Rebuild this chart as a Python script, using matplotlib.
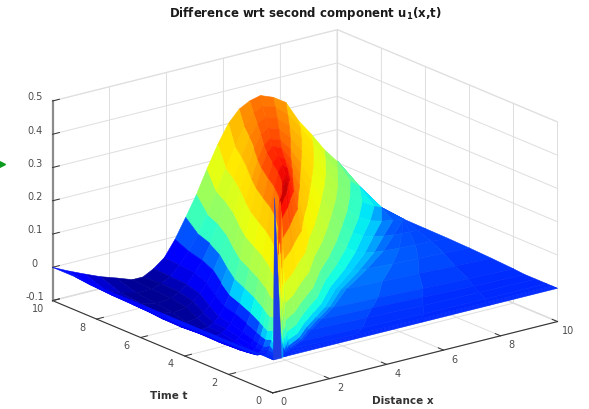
import numpy as np
import matplotlib
matplotlib.use("Agg")
import matplotlib.pyplot as plt
from matplotlib.colors import FuncNorm
from matplotlib.lines import Line2D
from mpl_toolkits.mplot3d.art3d import Poly3DCollection

t_vals = [0, .0625, .125, .1875, .25, .5, 1, 1.5, 2, 3, 4, 5, 6, 7, 8, 9, 10]

# where the crest runs at each time, and how wide it is on either side
ridge_x = [.2, .26, .32, .38, .45, .8, 1.2, 1.6, 2, 2.65, 3.25, 3.85, 4.54, 5.23, 5.92, 6.61, 7.3]
left_w = [.05, .06, .07, .085, .1, .2, .3, .38, .45, .55, .65, .75, .85, .95, 1.1, 1.3, 1.5]
right_w = [.1, .1, .1, .11, .12, .2, .3, .42, .55, .75, 1.05, 1.3, 1.45, 1.6, 1.7, 1.75, 1.79]

# mesh columns follow the crest, so the colour bands run along it as in the original
far_left = [0, .2, .4, .6, .8]
near_left = [-3, -2.75, -2.5, -2.25, -2, -1.75, -1.5, -1.25, -1, -.75, -.5, -.25]
near_right = [0, .25, .5, .75, 1, 1.25, 1.5, 1.75, 2, 2.25, 2.5, 2.75, 3]
far_right = [.25, .5, .75, 1]

# one row per t value, one column per mesh column above
u_vals = [
    [0, 0, 0, 0, 0, 0, 0, 0, 0, 0, 0, 0, 0, 0, 0, 0, 0, 0, 0, 0, 0, 0, 0, 0, 0, 0, 0, 0, 0, 0, 0, 0, 0, 0],
    [0, 0, 0, 0, 0, .001, .003, .005, .009, .016, .025, .037, .053, .07, .087, .101, .111, .115, .111, .101, .087, .07, .053, .037, .025, .016, .009, .005, .003, .001, 0, 0, 0, 0],
    [0, 0, 0, 0, 0, .003, .005, .01, .018, .031, .05, .075, .105, .14, .174, .203, .223, .23, .223, .203, .174, .14, .105, .075, .05, .031, .018, .01, .005, .003, 0, 0, 0, 0],
    [0, 0, 0, 0, 0, .004, .008, .015, .028, .047, .075, .112, .158, .209, .26, .304, .334, .345, .334, .304, .26, .209, .158, .112, .075, .047, .028, .015, .008, .004, 0, 0, 0, 0],
    [0, 0, 0, 0, 0, .005, .011, .02, .037, .062, .099, .15, .21, .28, .347, .406, .446, .46, .446, .406, .347, .279, .211, .15, .099, .062, .037, .02, .012, .008, .002, 0, 0, 0],
    [0, 0, 0, 0, 0, .005, .011, .021, .038, .065, .104, .156, .22, .291, .362, .423, .465, .48, .465, .423, .362, .291, .22, .156, .104, .065, .038, .024, .016, .012, .006, .002, 0, 0],
    [0, -.007, -.013, -.017, -.019, -.015, -.008, .002, .022, .046, .087, .14, .203, .275, .347, .409, .45, .47, .455, .415, .355, .285, .215, .153, .102, .066, .042, .028, .02, .016, .011, .005, .002, 0],
    [0, -.011, -.02, -.026, -.029, -.025, -.018, -.008, .014, .04, .08, .134, .199, .271, .342, .403, .446, .465, .451, .41, .351, .282, .213, .151, .1, .066, .042, .028, .022, .018, .014, .008, .003, 0],
    [0, -.015, -.027, -.035, -.039, -.035, -.027, -.016, .006, .033, .074, .129, .193, .265, .336, .395, .437, .455, .441, .401, .344, .276, .208, .148, .098, .064, .042, .03, .025, .022, .018, .012, .007, .003],
    [0, -.022, -.038, -.049, -.054, -.05, -.041, -.028, -.005, .024, .067, .122, .187, .257, .327, .386, .427, .445, .431, .392, .336, .27, .204, .145, .096, .064, .042, .032, .027, .024, .02, .016, .011, .007],
    [0, -.025, -.044, -.057, -.064, -.06, -.05, -.037, -.012, .016, .059, .114, .177, .247, .315, .373, .413, .43, .417, .379, .325, .261, .197, .14, .093, .062, .04, .032, .027, .024, .02, .017, .014, .01],
    [0, -.03, -.054, -.07, -.078, -.075, -.066, -.052, -.025, .006, .05, .105, .169, .239, .306, .363, .402, .42, .407, .37, .317, .255, .192, .137, .091, .06, .04, .03, .025, .022, .018, .016, .014, .012],
    [0, -.036, -.062, -.08, -.089, -.084, -.073, -.057, -.03, .002, .045, .099, .161, .228, .292, .347, .384, .40, .388, .353, .302, .243, .183, .13, .086, .056, .038, .028, .022, .018, .016, .015, .014, .013],
    [0, -.038, -.066, -.085, -.094, -.088, -.075, -.058, -.03, .002, .045, .098, .159, .224, .285, .339, .375, .39, .378, .344, .294, .237, .179, .127, .084, .053, .034, .024, .018, .014, .014, .014, .014, .014],
    [0, -.039, -.068, -.088, -.098, -.094, -.081, -.064, -.035, -.004, .041, .094, .154, .218, .279, .33, .365, .38, .368, .335, .287, .231, .174, .124, .082, .051, .03, .021, .021, .021, .021, .021, .021, .021],
    [0, -.036, -.064, -.084, -.096, -.096, -.086, -.072, -.044, -.01, .035, .088, .148, .212, .271, .322, .357, .37, .359, .326, .279, .225, .169, .12, .08, .057, .057, .057, .057, .057, .057, .057, .057, .057],
    [0, -.023, -.044, -.064, -.08, -.097, -.097, -.08, -.055, -.008, .05, .11, .18, .245, .30, .335, .352, .36, .345, .32, .255, .205, .15, .105, .105, .105, .105, .105, .105, .105, .105, .105, .105, .105],
]

# thin blue needle at the near corner
spike_x = [0, .3, .05]
spike_t = [0, 0, 0]
spike_u = [0, 0, .487]

# colours do not run linearly with height in the original
color_u = [-.13, -.1, -.08, -.05, -.02, 0, .01, .02, .03, .07, .1, .195, .3, .356, .42, .49, .52]
color_pos = [0, .01, .04, .1, .13, .165, .18, .22, .32, .42, .5, .625, .7, .78, .87, .97, 1]

x_ticks = [0, 2, 4, 6, 8, 10]
t_ticks = [0, 2, 4, 6, 8, 10]
u_ticks = [-.1, 0, .1, .2, .3, .4, .5]
u_labels = ["-0.1", "0", "0.1", "0.2", "0.3", "0.4", "0.5"]

W, H = 589, 409
fig = plt.figure(figsize=(W / 100, H / 100), dpi=100)
ax = fig.add_axes([30.3 / W, -77 / H, 535 / W, 535 / H], projection="3d", computed_zorder=False)
ax.set_proj_type("ortho")
ax.view_init(elev=18.9, azim=-127.7)
ax.set_box_aspect((360, 360, 211), zoom=1)

ridge = np.array(ridge_x)
lw = np.array(left_w)
rw = np.array(right_w)
left_end = ridge - 3 * lw
right_end = np.minimum(ridge + 3 * rw, 10)
X = np.hstack([
    np.outer(left_end, far_left),
    ridge[:, None] + np.outer(lw, near_left),
    ridge[:, None] + np.outer(rw, near_right),
    right_end[:, None] + np.outer(10 - right_end, far_right),
])
X = np.minimum(X, 10)
T = np.repeat(np.array(t_vals)[:, None], X.shape[1], axis=1)
U = np.array(u_vals)

norm = FuncNorm((lambda v: np.interp(v, color_u, color_pos), lambda v: np.interp(v, color_pos, color_u)),
                vmin=-.13, vmax=.52)
surf = ax.plot_surface(X, T, U, cmap="jet", norm=norm, rstride=1, cstride=1, shade=False, zorder=1)
surf.set_edgecolor("face")
surf.set_linewidth(.4)

spike = Poly3DCollection([list(zip(spike_x, spike_t, spike_u))], facecolor="#1c3ce6", edgecolor="#1c3ce6",
                         linewidth=.3, zorder=2)
ax.add_collection3d(spike)

ax.set_xlim(0, 10)
ax.set_ylim(0, 10)
ax.set_zlim(-.1, .5)
ax.set_xticks(x_ticks)
ax.set_yticks(t_ticks)
ax.set_zticks(u_ticks)
ax.set_zticklabels(u_labels)

for axis in (ax.xaxis, ax.yaxis, ax.zaxis):
    axis.pane.set_visible(True)
    axis.pane.fill = False
    axis.pane.set_edgecolor("#d9d9d9")
    axis._axinfo["grid"].update(color="#dedede", linewidth=.7)
    axis._axinfo["tick"].update(inward_factor=0, outward_factor=.3, linewidth={True: .7, False: .5})
    axis.line.set_color("#333333")
    axis.line.set_linewidth(.8)
ax.zaxis.line.set_color("#8c8c8c")
ax.zaxis.line.set_linewidth(1.6)

ax.tick_params(axis="both", labelsize=7, labelcolor="#4d4d4d", color="#333333", pad=2)
ax.tick_params(axis="z", labelsize=7, labelcolor="#4d4d4d", color="#333333", pad=-1)
for axis in (ax.xaxis, ax.yaxis):
    for lab in axis.get_ticklabels():
        lab.set_va("bottom")
for lab in ax.zaxis.get_ticklabels():
    lab.set_va("baseline")

fig.text(403 / W, 1 - 401 / H, "Distance x", ha="center", va="center", fontsize=7.5, fontweight="bold", color="#333333")
fig.text(169 / W, 1 - 396 / H, "Time t", ha="center", va="center", fontsize=7.5, fontweight="bold", color="#333333")
fig.text(305 / W, 1 - 14 / H, r"Difference wrt second component u$_{\mathbf{1}}$(x,t)", ha="center", va="center",
         fontsize=8.5, fontweight="bold", color="#1a1a1a")
fig.add_artist(Line2D([2 / W], [1 - 164 / H], marker=">", markersize=4, color="#0a9a1e", linestyle="none",
                      transform=fig.transFigure))

fig.savefig("out.png", dpi=100)
